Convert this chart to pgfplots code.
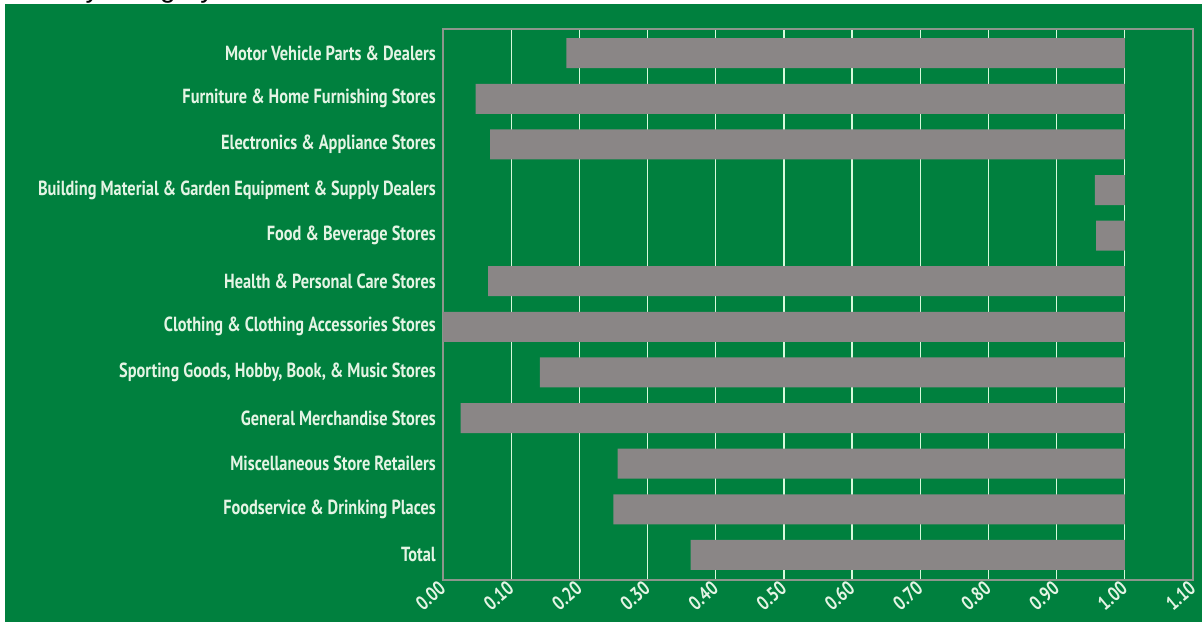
\documentclass[border=0pt]{standalone}
\usepackage{pgfplots}
\pgfplotsset{compat=1.18}
\usepackage{pgfplotstable}
\usepackage{fontspec}
\setmainfont{PT Sans}[FakeStretch=0.8]
\newfontfamily\titlefont{Liberation Sans}
\definecolor{bg}{RGB}{0,128,62}
\definecolor{bargray}{RGB}{138,134,134}
\definecolor{framegray}{RGB}{140,150,140}
\definecolor{gridc}{RGB}{215,250,220}
\definecolor{labc}{RGB}{228,244,228}
\pgfplotstableread{
idx start len
0 0.181 0.819
1 0.048 0.952
2 0.069 0.931
3 0.956 0.044
4 0.958 0.042
5 0.066 0.934
6 0.000 1.000
7 0.142 0.858
8 0.026 0.974
9 0.256 0.744
10 0.250 0.750
11 0.363 0.637
}\datatable
\begin{document}
\begin{tikzpicture}
\fill[white] (0bp,0bp) rectangle (1202bp,622bp);
\fill[bg] (5bp,0bp) rectangle (1202bp,618bp);
\begin{scope}
\clip (0bp,618bp) rectangle (1202bp,622bp);
\node[anchor=base west, inner sep=0pt, font=\titlefont\fontsize{28}{30}\selectfont] at (70bp,624bp) {by category};
\end{scope}
\begin{axis}[
  at={(443bp,42bp)}, anchor=south west,
  scale only axis, width=750bp, height=551bp,
  xmin=0, xmax=1.1, ymin=-0.53, ymax=11.55, y dir=reverse,
  xbar stacked, bar width=30bp,
  axis line style={draw=framegray, line width=1.3pt},
  xtick={0,0.1,0.2,0.3,0.4,0.5,0.6,0.7,0.8,0.9,1.0,1.1},
  xticklabels={0.00,0.10,0.20,0.30,0.40,0.50,0.60,0.70,0.80,0.90,1.00,1.10},
  ytick={0,1,2,3,4,5,6,7,8,9,10,11},
  yticklabels={Motor Vehicle Parts \& Dealers, Furniture \& Home Furnishing Stores, Electronics \& Appliance Stores, Building Material \& Garden Equipment \& Supply Dealers, Food \& Beverage Stores, Health \& Personal Care Stores, Clothing \& Clothing Accessories Stores, {Sporting Goods, Hobby, Book, \& Music Stores}, General Merchandise Stores, Miscellaneous Store Retailers, Foodservice \& Drinking Places, Total},
  major tick length=0pt,
  xmajorgrids, major grid style={draw=gridc, line width=1.2pt},
  yticklabel style={font=\bfseries\fontsize{20.5}{22}\selectfont, text=labc, inner sep=0pt, xshift=-7bp},
  xticklabel style={font=\bfseries\fontsize{20}{22}\selectfont, text=labc, rotate=40, anchor=east, inner sep=1pt, xshift=-3bp, yshift=-4bp},
]
\addplot[draw=none, fill=none] table[x=start, y=idx] {\datatable};
\addplot[fill=bargray, draw=none] table[x=len, y=idx] {\datatable};
\end{axis}
\pgfresetboundingbox
\useasboundingbox (0bp,0bp) rectangle (1202bp,622bp);
\end{tikzpicture}
\end{document}
